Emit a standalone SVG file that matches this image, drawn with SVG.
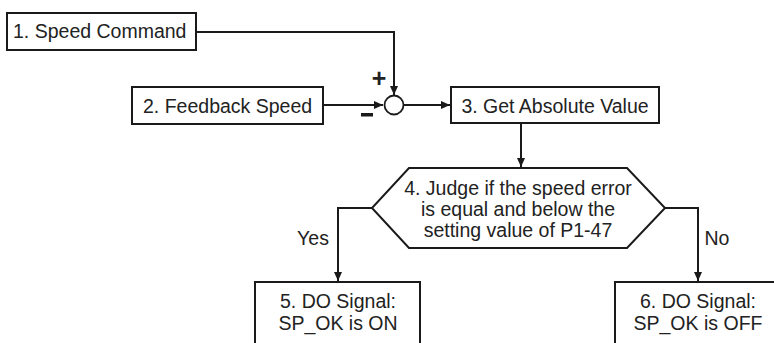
<svg xmlns="http://www.w3.org/2000/svg" width="774" height="343" viewBox="0 0 774 343">
<defs>
<marker id="arr" markerWidth="10" markerHeight="10" refX="9" refY="5" orient="auto" markerUnits="userSpaceOnUse">
<path d="M0,1 L9,5 L0,9 Z" fill="#1a1a1a"/>
</marker>
</defs>
<style>
.box{fill:#fff;stroke:#1a1a1a;stroke-width:2}
.ln{fill:none;stroke:#1a1a1a;stroke-width:2}
text{font-family:"Liberation Sans",Arial,sans-serif;font-size:19.5px;fill:#222}
.c{text-anchor:middle}
</style>
<rect width="774" height="343" fill="#fff"/>
<g id="connectors">
<polyline class="ln" points="196,32 394,32 394,95" marker-end="url(#arr)"/>
<line class="ln" x1="323" y1="105" x2="383" y2="105" marker-end="url(#arr)"/>
<line class="ln" x1="403.5" y1="105" x2="450" y2="105" marker-end="url(#arr)"/>
<line class="ln" x1="521" y1="123" x2="521" y2="167" marker-end="url(#arr)"/>
<polyline class="ln" points="372,208 338,208 338,281" marker-end="url(#arr)"/>
<polyline class="ln" points="665,208 698,208 698,281" marker-end="url(#arr)"/>
<text x="313" y="245" class="c">Yes</text>
<text x="717" y="245" class="c">No</text>
</g>
<g id="n1">
<rect class="box" x="7" y="13" width="189" height="37"/>
<text x="13" y="38">1. Speed Command</text>
</g>
<g id="n2">
<rect class="box" x="132" y="87" width="191" height="37"/>
<text x="143" y="113">2. Feedback Speed</text>
</g>
<g id="sum">
<circle cx="394" cy="105" r="9.5" fill="#fff" stroke="#1a1a1a" stroke-width="1.8"/>
<text x="379" y="87" class="c" style="font-size:25px;font-weight:bold">+</text>
<rect x="361" y="113" width="12" height="3.5" fill="#1a1a1a"/>
</g>
<g id="n3">
<rect class="box" x="451" y="87" width="208" height="36"/>
<text x="555" y="113" class="c">3. Get Absolute Value</text>
</g>
<g id="n4">
<polygon class="box" points="409,168 627,168 665,208 627,248 409,248 372,208"/>
<text x="518" y="195" class="c">4. Judge if the speed error</text>
<text x="518" y="216" class="c">is equal and below the</text>
<text x="518" y="237" class="c">setting value of P1-47</text>
</g>
<g id="n5">
<rect class="box" x="255" y="282" width="165" height="70"/>
<text x="338" y="308" class="c">5. DO Signal:</text>
<text x="338" y="330" class="c">SP_OK is ON</text>
</g>
<g id="n6">
<rect class="box" x="615" y="282" width="170" height="70"/>
<text x="698" y="308" class="c">6. DO Signal:</text>
<text x="698" y="330" class="c">SP_OK is OFF</text>
</g>
</svg>
